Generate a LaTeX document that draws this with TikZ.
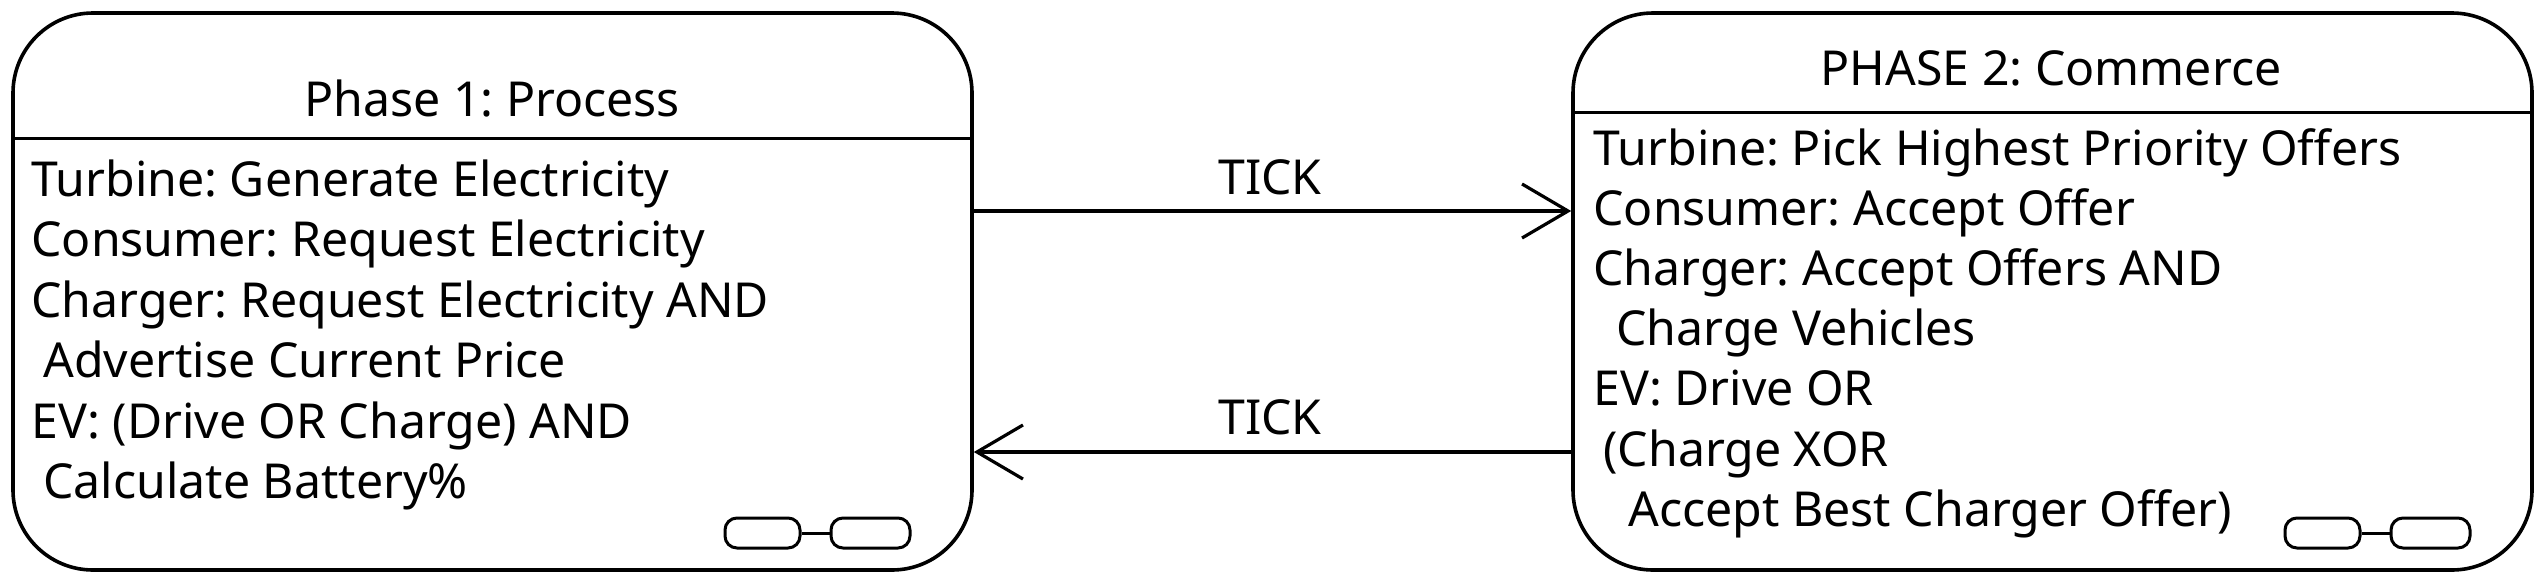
\documentclass[tikz,border=0pt]{standalone}
\usepackage{fontspec}
\setmainfont{Noto Sans}
\usetikzlibrary{arrows.meta}
\frenchspacing
\begin{document}
\begin{tikzpicture}[x=0.5pt,y=-0.5pt,
  phase/.style={draw, line width=1.8pt, rounded corners=40pt, minimum width=479.5pt, minimum height=278.5pt, inner sep=0pt},
  txt/.style={anchor=base west, inner sep=0pt, font=\fontsize{24.1pt}{30pt}\selectfont},
  ttl/.style={anchor=base, inner sep=0pt, font=\fontsize{24.1pt}{30pt}\selectfont},
  arr/.style={line width=1.6pt, -{Straight Barb[length=23pt, width=27pt, line width=1.6pt]}},
  link/.style={draw, line width=1.5pt, rounded corners=6pt}]
\useasboundingbox (0,0) rectangle (2540,580);
% boxes
\node[phase] (p1) at (492.5,291.5) {};
\node[phase] (p2) at (2052.5,291.5) {};
% dividers
\draw[line width=1.5pt] (p1.west |- 0,138) -- (p1.east |- 0,138);
\draw[line width=1.5pt] (p2.west |- 0,112) -- (p2.east |- 0,112);
% titles
\node[ttl] (t1) at (492,116) {Phase 1: Process};
\node[ttl] (t2) at (2051,85) {PHASE 2: Commerce};
% left body
\node[txt] (l1) at (31,196) {Turbine: Generate Electricity};
\node[txt] (l2) at (31,256.5) {Consumer: Request Electricity};
\node[txt] (l3) at (31,317) {Charger: Request Electricity AND};
\node[txt] (l4) at (43,377.5) {Advertise Current Price};
\node[txt] (l5) at (31,438) {EV: (Drive OR Charge) AND};
\node[txt] (l6) at (43,498.5) {Calculate Battery\%};
% right body
\node[txt] (r1) at (1593,165) {Turbine: Pick Highest Priority Offers};
\node[txt] (r2) at (1593,225.2) {Consumer: Accept Offer};
\node[txt] (r3) at (1593,285.4) {Charger: Accept Offers AND};
\node[txt] (r4) at (1616,345.6) {Charge Vehicles};
\node[txt] (r5) at (1593,405.8) {EV: Drive OR};
\node[txt] (r6) at (1603,466) {(Charge XOR};
\node[txt] (r7) at (1628,526.2) {Accept Best Charger Offer)};
% arrows
\draw[arr] (p1.east |- 0,211) -- (p2.west |- 0,211);
\draw[arr] (p2.west |- 0,452) -- (p1.east |- 0,452);
\node[ttl] (k1) at (1270,194) {TICK};
\node[ttl] (k2) at (1270,434) {TICK};
% chain icons
\node[link, minimum width=37.5pt, minimum height=15pt] (a1) at (762.5,533) {};
\node[link, minimum width=39.5pt, minimum height=15pt] (a2) at (870.5,533) {};
\draw[line width=1.5pt] (a1.east) -- (a2.west);
\node[link, minimum width=37.5pt, minimum height=15pt] (b1) at (2322.5,533) {};
\node[link, minimum width=39.5pt, minimum height=15pt] (b2) at (2430.5,533) {};
\draw[line width=1.5pt] (b1.east) -- (b2.west);
\end{tikzpicture}
\end{document}
